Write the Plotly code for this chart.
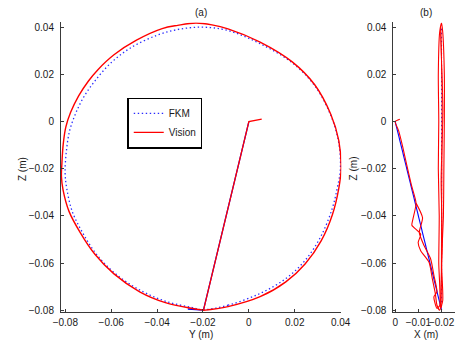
import plotly.graph_objects as go

# ---------------- data ----------------
# Panel (a): Y-Z plane
fkm_circle_y = [-0.0200, -0.0091, 0.0049, 0.0161, 0.0245, 0.0315, 0.0364, 0.0385, 0.0399, 0.0390,
                0.0355, 0.0287, 0.0189, 0.0049, -0.0091, -0.0196, -0.0300, -0.0400, -0.0518, -0.0602,
                -0.0672, -0.0721, -0.0756, -0.0781, -0.0795, -0.0801, -0.0794, -0.0770, -0.0725, -0.0665,
                -0.0581, -0.0469, -0.0357, -0.0252, -0.0200]
fkm_circle_z = [-0.0798, -0.0779, -0.0729, -0.0666, -0.0589, -0.0485, -0.0367, -0.0283, -0.0199, -0.0081,
                0.0031, 0.0152, 0.0249, 0.0330, 0.0386, 0.0400, 0.0392, 0.0366, 0.0311, 0.0248,
                0.0171, 0.0102, 0.0032, -0.0038, -0.0121, -0.0219, -0.0283, -0.0381, -0.0471, -0.0562,
                -0.0646, -0.0718, -0.0764, -0.0788, -0.0798]
fkm_line_y = [0.0, -0.0198, -0.0266]
fkm_line_z = [0.0, -0.0800, -0.0795]

vis_circle_y = [-0.0200, -0.0091, 0.0049, 0.0161, 0.0245, 0.0315, 0.0364, 0.0392, 0.0402, 0.0392,
                0.0357, 0.0287, 0.0189, 0.0049, -0.0091, -0.0161, -0.0231, -0.0310, -0.0378, -0.0490,
                -0.0588, -0.0658, -0.0700, -0.0742, -0.0777, -0.0798, -0.0809, -0.0815, -0.0817, -0.0810,
                -0.0784, -0.0735, -0.0672, -0.0588, -0.0476, -0.0364, -0.0252, -0.0196]
vis_circle_z = [-0.0801, -0.0785, -0.0743, -0.0680, -0.0604, -0.0506, -0.0395, -0.0283, -0.0199, -0.0081,
                0.0031, 0.0156, 0.0253, 0.0337, 0.0393, 0.0410, 0.0418, 0.0408, 0.0394, 0.0345,
                0.0283, 0.0220, 0.0171, 0.0109, 0.0039, -0.0024, -0.0094, -0.0177, -0.0233, -0.0290,
                -0.0381, -0.0471, -0.0562, -0.0646, -0.0722, -0.0768, -0.0792, -0.0800]
vis_line_y = [0.0056, 0.0, -0.0198]
vis_line_z = [0.0010, 0.0, -0.0801]

# Panel (b): X-Z plane
fkm_b_line_x = [0.0, -0.0200]
fkm_b_line_z = [0.0, -0.0800]
fkm_b_vert_x = [-0.0200, -0.0200]
fkm_b_vert_z = [-0.0800, 0.0400]

vis_b_x = [-0.0020, 0.0, -0.0015, -0.0033, -0.0050, -0.0070, -0.0090, -0.0076, -0.0072, -0.0110,
           -0.0099, -0.0110, -0.0146, -0.0160, -0.0173, -0.0180, -0.0192,
           -0.0205, -0.0200, -0.0208, -0.0210, -0.0212, -0.0212, -0.0205, -0.0200,
           -0.0192, -0.0186, -0.0188, -0.0186, -0.0190, -0.0188, -0.0192,
           -0.0180, -0.0167, -0.0180, -0.0167, -0.0153, -0.0125, -0.0104, -0.0118, -0.0090]
vis_b_z = [0.0010, 0.0, -0.0040, -0.0110, -0.0185, -0.0270, -0.0346, -0.0416, -0.0440, -0.0478,
           -0.0513, -0.0548, -0.0597, -0.0666, -0.0729, -0.0778, -0.0800,
           -0.0760, -0.0600, -0.0400, -0.0200, 0.0000, 0.0200, 0.0380, 0.0418,
           0.0380, 0.0200, 0.0000, -0.0200, -0.0400, -0.0600, -0.0780,
           -0.0792, -0.0743, -0.0722, -0.0652, -0.0583, -0.0527, -0.0471, -0.0408, -0.0346]
vis_b2_x = [-0.0195, -0.0203, -0.0198, -0.0206, -0.0200, -0.0196, -0.0202, -0.0198]
vis_b2_z = [-0.0790, -0.0500, -0.0250, 0.0050, 0.0250, 0.0400, 0.0150, -0.0790]

z_ticks = [-0.08, -0.06, -0.04, -0.02, 0, 0.02, 0.04]
z_ticktext = ["\u22120.08", "\u22120.06", "\u22120.04", "\u22120.02", "0", "0.02", "0.04"]
y_ticks = [-0.08, -0.06, -0.04, -0.02, 0, 0.02, 0.04]
y_ticktext = ["\u22120.08", "\u22120.06", "\u22120.04", "\u22120.02", "0", "0.02", "0.04"]
x_ticks = [0, -0.01, -0.02]
x_ticktext = ["0", "\u22120.01", "\u22120.02"]

RED = "#ff0000"
BLUE = "#2a2aff"
FONT = "Liberation Sans"
TXT = "#1a1a1a"
DOT = "1.4px,2.6px"

fig = go.Figure()
# panel a
fig.add_trace(go.Scatter(x=fkm_circle_y, y=fkm_circle_z, mode="lines", name="FKM",
                         line=dict(color=BLUE, width=1.3, dash=DOT, shape="spline"),
                         xaxis="x", yaxis="y", showlegend=True))
fig.add_trace(go.Scatter(x=fkm_line_y, y=fkm_line_z, mode="lines", name="FKM",
                         line=dict(color="#0000ff", width=1.3), xaxis="x", yaxis="y", showlegend=False))
fig.add_trace(go.Scatter(x=vis_circle_y, y=vis_circle_z, mode="lines", name="Vision",
                         line=dict(color=RED, width=1.4, shape="spline"),
                         xaxis="x", yaxis="y", showlegend=True))
fig.add_trace(go.Scatter(x=vis_line_y, y=vis_line_z, mode="lines", name="Vision",
                         line=dict(color=RED, width=1.3), xaxis="x", yaxis="y", showlegend=False))
# panel b
fig.add_trace(go.Scatter(x=fkm_b_vert_x, y=fkm_b_vert_z, mode="lines", showlegend=False,
                         line=dict(color=BLUE, width=1.1, dash=DOT), xaxis="x2", yaxis="y2"))
fig.add_trace(go.Scatter(x=fkm_b_line_x, y=fkm_b_line_z, mode="lines", showlegend=False,
                         line=dict(color="#0000ff", width=1.1), xaxis="x2", yaxis="y2"))
fig.add_trace(go.Scatter(x=vis_b_x, y=vis_b_z, mode="lines", showlegend=False,
                         line=dict(color=RED, width=1.1, shape="spline", smoothing=0.6),
                         xaxis="x2", yaxis="y2"))
fig.add_trace(go.Scatter(x=vis_b2_x, y=vis_b2_z, mode="lines", showlegend=False,
                         line=dict(color=RED, width=1.0, shape="spline", smoothing=0.6),
                         xaxis="x2", yaxis="y2"))

W, H = 464, 349


def px(x):
    return x / W


def py(y):
    return 1 - y / H


ydom = [py(315.1), py(21.8)]
axis_common = dict(showgrid=False, zeroline=False, showline=True, linecolor="#3a3a3a", linewidth=1,
                   ticks="inside", ticklen=3, tickcolor="#3a3a3a", tickwidth=1,
                   tickfont=dict(family=FONT, size=10, color=TXT), mirror=False)

fig.update_layout(
    width=W, height=H,
    margin=dict(l=0, r=0, t=0, b=0),
    paper_bgcolor="white", plot_bgcolor="white",
    xaxis=dict(domain=[px(55), px(346)], range=[-0.0819, 0.0403], anchor="y",
               tickvals=y_ticks, ticktext=y_ticktext, tickangle=0, ticklabelstandoff=1, **axis_common),
    yaxis=dict(domain=ydom, range=[-0.0806, 0.042], anchor="x",
               tickvals=z_ticks, ticktext=z_ticktext, ticklabelstandoff=4, **axis_common),
    xaxis2=dict(domain=[px(400), px(464)], range=[0.0008, -0.0258], anchor="y2",
                tickvals=x_ticks, ticktext=x_ticktext, tickangle=0, ticklabelstandoff=1, **axis_common),
    yaxis2=dict(domain=ydom, range=[-0.0806, 0.042], anchor="x2",
                tickvals=z_ticks, ticktext=z_ticktext, ticklabelstandoff=4, **axis_common),
    legend=dict(x=px(124), y=py(98), xanchor="left", yanchor="top",
                bgcolor="white", bordercolor="black", borderwidth=1.3,
                font=dict(family=FONT, size=10, color=TXT),
                tracegroupgap=0, itemwidth=30),
    annotations=[
        dict(text="(a)", x=px(200), y=py(12), xanchor="center", yanchor="middle",
             xref="paper", yref="paper", showarrow=False, font=dict(family=FONT, size=10, color=TXT)),
        dict(text="(b)", x=px(434), y=py(12), xanchor="center", yanchor="middle",
             xref="paper", yref="paper", showarrow=False, font=dict(family=FONT, size=10, color=TXT)),
        dict(text="Y (m)", x=px(200), y=py(338), xanchor="center", yanchor="middle",
             xref="paper", yref="paper", showarrow=False, font=dict(family=FONT, size=10, color=TXT)),
        dict(text="X (m)", x=px(434), y=py(338), xanchor="center", yanchor="middle",
             xref="paper", yref="paper", showarrow=False, font=dict(family=FONT, size=10, color=TXT)),
        dict(text="Z (m)", x=px(15), y=py(170), xanchor="center", yanchor="middle",
             xref="paper", yref="paper", showarrow=False, textangle=-90,
             font=dict(family=FONT, size=10, color=TXT)),
        dict(text="Z (m)", x=px(359), y=py(170), xanchor="center", yanchor="middle",
             xref="paper", yref="paper", showarrow=False, textangle=-90,
             font=dict(family=FONT, size=10, color=TXT)),
    ],
)

# Remove the default 8px page margin so the figure fills the 464x349 window exactly.
fig.write_html(
    "out.html",
    config={"displayModeBar": False},
    post_script="document.body.style.margin='0';document.body.style.padding='0';"
                "document.documentElement.style.overflow='hidden';",
)
